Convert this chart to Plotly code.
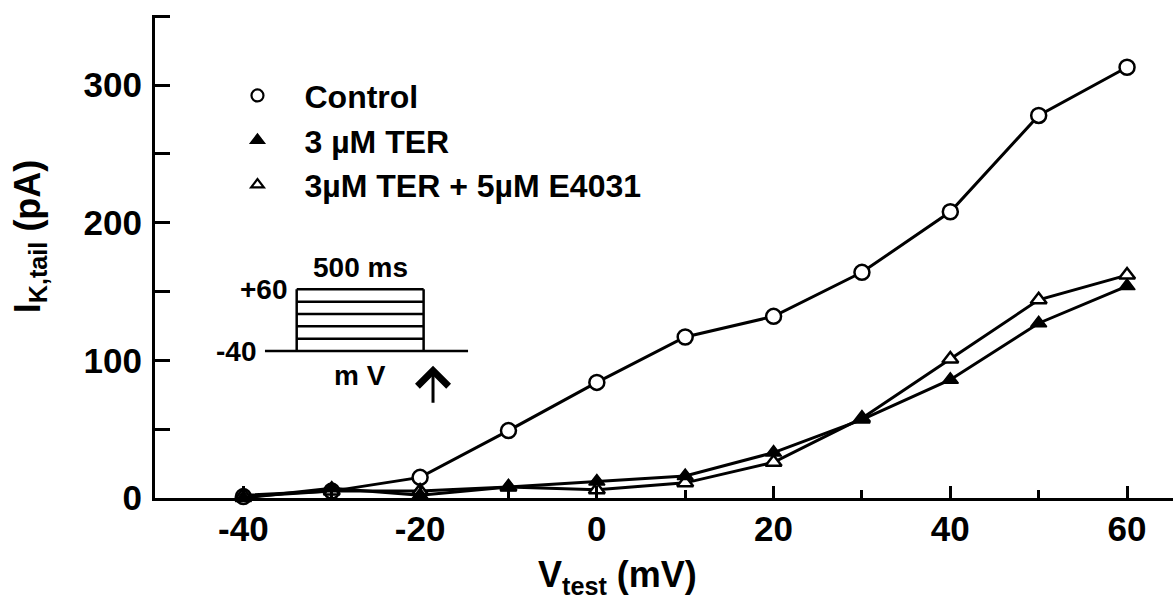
import plotly.graph_objects as go

# ---------------- data ----------------
v_test = [-40, -30, -20, -10, 0, 10, 20, 30, 40, 50, 60]
control = [1, 5, 15, 49, 84, 117, 132, 164, 208, 278, 313]
ter_3uM = [0, 7, 2, 8, 12, 16, 33, 57, 86, 127, 154]
ter_e4031 = [2, 5, 5, 8, 6, 11, 26, 58, 101, 144, 162]

series_names = ["Control", "3 µM TER", "3µM TER + 5µM E4031"]

x_tickvals = [-40, -20, 0, 20, 40, 60]
x_ticktext = ["-40", "-20", "0", "20", "40", "60"]
x_minorvals = [-30, -10, 10, 30, 50]
y_tickvals = [0, 100, 200, 300]
y_ticktext = ["0", "100", "200", "300"]
y_minorvals = [50, 150, 250, 350]

# inset voltage protocol
holding_mv = -40
step_levels_mv = [-20, 0, 20, 40, 60]
pulse_on_ms, pulse_off_ms, sweep_end_ms = 125, 625, 800
tail_mark_ms = 662

# ---------------- figure ----------------
FONT = "Liberation Sans"
fig = go.Figure()

styles = [
    dict(symbol="circle", color="white", size=15, lw=2.5),
    dict(symbol="triangle-up", color="black", size=14, lw=1.5),
    dict(symbol="triangle-up", color="white", size=14, lw=2.5),
]
data_series = [control, ter_3uM, ter_e4031]
draw_order = [0, 2, 1]
for i in draw_order:
    s = styles[i]
    fig.add_trace(go.Scatter(
        x=v_test, y=data_series[i], mode="lines+markers",
        line=dict(color="black", width=3),
        marker=dict(symbol=s["symbol"], size=s["size"], color=s["color"],
                    line=dict(color="black", width=s["lw"])),
        cliponaxis=False, showlegend=False, hoverinfo="skip"))

# legend proxies (markers only)
legend_sizes = [12, 11, 11]
for i, name in enumerate(series_names):
    s = styles[i]
    fig.add_trace(go.Scatter(
        x=[None], y=[None], mode="markers", name=name,
        marker=dict(symbol=s["symbol"], size=legend_sizes[i], color=s["color"],
                    line=dict(color="black", width=2.2))))

# inset protocol trace
ix, iy = [], []
ix += [0, sweep_end_ms, None]
iy += [holding_mv, holding_mv, None]
top = max(step_levels_mv)
for t in (pulse_on_ms, pulse_off_ms):
    ix += [t, t, None]
    iy += [holding_mv, top, None]
for lv in step_levels_mv:
    ix += [pulse_on_ms, pulse_off_ms, None]
    iy += [lv, lv, None]
fig.add_trace(go.Scatter(x=ix, y=iy, mode="lines", xaxis="x2", yaxis="y2",
                         line=dict(color="black", width=2.5),
                         showlegend=False, hoverinfo="skip"))

tickfont = dict(family=FONT, size=35, color="black", weight="bold")

fig.update_layout(
    width=1173, height=601,
    margin=dict(l=155, r=0, t=15, b=102.5, pad=0),
    paper_bgcolor="white", plot_bgcolor="white",
    font=dict(family=FONT, color="black"),
    xaxis=dict(range=[-50, 65.2], showline=True, linewidth=3, linecolor="black",
               ticks="inside", ticklen=12, tickwidth=3, tickcolor="black",
               tickvals=x_tickvals, ticktext=x_ticktext, tickfont=tickfont,
               ticklabelstandoff=-2,
               minor=dict(ticks="inside", ticklen=8, tickwidth=3,
                          tickcolor="black", tickvals=x_minorvals),
               showgrid=False, zeroline=False),
    yaxis=dict(range=[0, 351], showline=True, linewidth=3, linecolor="black",
               ticks="inside", ticklen=15, tickwidth=3, tickcolor="black",
               tickvals=y_tickvals, ticktext=y_ticktext, tickfont=tickfont,
               ticklabelstandoff=3,
               minor=dict(ticks="inside", ticklen=15, tickwidth=3,
                          tickcolor="black", tickvals=y_minorvals),
               showgrid=False, zeroline=False),
    xaxis2=dict(domain=[0.0781, 0.3100], range=[-120, 810], anchor="y2",
                visible=False, fixedrange=True),
    yaxis2=dict(domain=[0.1764, 0.4833], range=[-140, 100], anchor="x2",
                visible=False, fixedrange=True),
    legend=dict(x=0.0545, y=0.890, xanchor="left", yanchor="top",
                bgcolor="rgba(0,0,0,0)", itemwidth=84,
                font=dict(family=FONT, size=32, color="black", weight="bold"),
                tracegroupgap=0),
)

inset_font = dict(family=FONT, size=28, color="black", weight="bold")
annotations = [
    dict(text="V<sub>test</sub> (mV)", xref="paper", yref="paper",
         x=(617 - 155) / 1018, y=(498.5 - 577) / 482.5,
         xanchor="center", yanchor="middle", showarrow=False,
         font=dict(family=FONT, size=36, weight="bold", color="black")),
    dict(text="I<sub>K,tail</sub> (pA)", xref="paper", yref="paper",
         x=(30 - 155) / 1018, y=(498.5 - 237) / 482.5,
         xanchor="center", yanchor="middle", showarrow=False,
         textangle=-90, font=dict(family=FONT, size=36, weight="bold", color="black")),
    # inset labels
    dict(text="+60", xref="x2", yref="y2", x=98, y=top, xanchor="right",
         yanchor="middle", showarrow=False, font=inset_font),
    dict(text="-40", xref="x2", yref="y2", x=-26, y=holding_mv, xanchor="right",
         yanchor="middle", showarrow=False, font=inset_font),
    dict(text="500 ms", xref="x2", yref="y2", x=(pulse_on_ms + pulse_off_ms) / 2,
         y=top + 36, xanchor="center", yanchor="middle", showarrow=False, font=inset_font),
    dict(text="m V", xref="x2", yref="y2", x=(pulse_on_ms + pulse_off_ms) / 2,
         y=holding_mv - 40, xanchor="center", yanchor="middle", showarrow=False,
         font=inset_font),
    dict(text="", xref="x2", yref="y2", axref="x2", ayref="y2",
         x=tail_mark_ms, y=-64, ax=tail_mark_ms, ay=-126, showarrow=True, arrowhead=4,
         arrowsize=2, arrowwidth=3, arrowcolor="black", standoff=0),
]
fig.update_layout(annotations=annotations)

fig.write_html("out.html")
